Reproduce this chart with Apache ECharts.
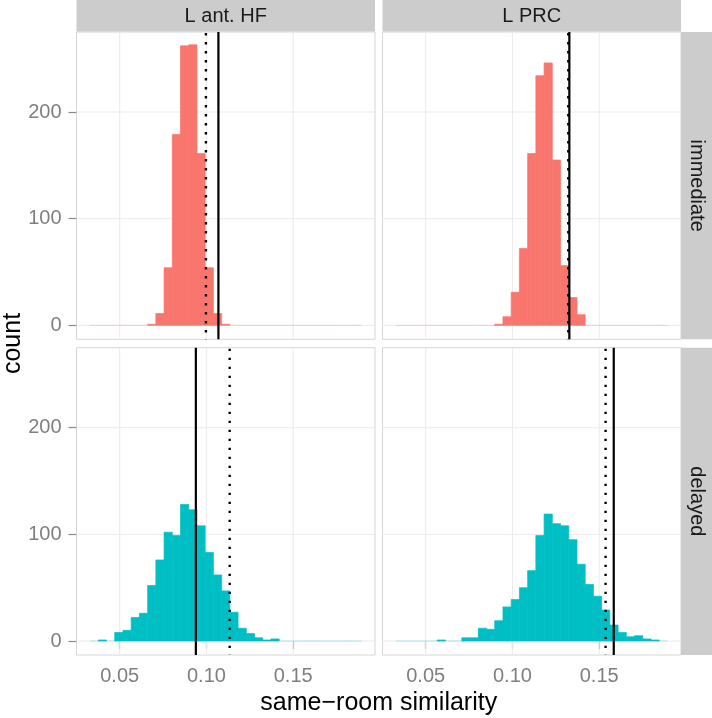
<!DOCTYPE html>
<html>
<head>
<meta charset="utf-8">
<script src="https://cdn.jsdelivr.net/npm/echarts@6/dist/echarts.min.js"></script>
<style>html,body{margin:0;padding:0;background:#fff}#c{width:712px;height:718px}</style>
</head>
<body>
<div id="c"></div>
<script>
// ---- data ----
const colLabels = ['L ant. HF', 'L PRC'];
const rowLabels = ['immediate', 'delayed'];
const xTicks = [0.05, 0.10, 0.15];
const yTicks = [0, 100, 200];
const binWidth = 0.00474;
const binCenters = [0.03529, 0.04003, 0.04477, 0.04951, 0.05425, 0.05899, 0.06373, 0.06847,
  0.07321, 0.07795, 0.08269, 0.08743, 0.09217, 0.09691, 0.10165, 0.10639, 0.11113, 0.11587,
  0.12061, 0.12535, 0.13009, 0.13483, 0.13957, 0.14431, 0.14905, 0.15379, 0.15853, 0.16327,
  0.16801, 0.17275, 0.17749, 0.18223, 0.18697];
const countsImmHF = [0,0,0,0,0,0,0, 1,11,54,179,262,263,161,54,11,1, 0,0,0,0,0,0,0,0,0,0,0,0,0,0,0,0];
const countsImmPRC = [0,0,0,0,0,0,0,0,0,0,0,0, 1,8,31,72,161,234,246,155,56,26,10, 0,0,0,0,0,0,0,0,0,0];
const countsDelHF = [0,1,0, 8,10,22,26,52,76,102,99,128,123,108,83,62,47,27,12,7,3,1,2, 0,0,0,0,0,0,0,0,0,0];
const countsDelPRC = [0,0,0,0,0,1,0,0, 3,3,12,11,19,32,39,50,66,99,119,110,108,95,72,53,42,29,15,8,4,5,2,1, 0];
// observed (solid) and reference (dotted) similarity per panel: immHF, immPRC, delHF, delPRC
const observedLines = [0.1069, 0.1328, 0.0939, 0.1584];
const referenceLines = [0.0997, 0.1322, 0.1134, 0.1537];

const xMin = 0.0251, xMax = 0.19716;
const yMin = -13.1, yMax = 275;

const panels = [
  {row: 0, col: 0, counts: countsImmHF, color: '#F8766D'},
  {row: 0, col: 1, counts: countsImmPRC, color: '#F8766D'},
  {row: 1, col: 0, counts: countsDelHF, color: '#00BFC4'},
  {row: 1, col: 1, counts: countsDelPRC, color: '#00BFC4'}
];

// ---- layout ----
const gLeft = [76.5, 382.5], gWidth = 298.5;
const gTop = [32, 347.7], gHeight = 307.3;
const FONT = '"Liberation Sans", Arial, Helvetica, sans-serif';

const grids = [], xAxes = [], yAxes = [], series = [];
panels.forEach((p, i) => {
  grids.push({left: gLeft[p.col], top: gTop[p.row], width: gWidth, height: gHeight,
    show: true, borderColor: '#d6d6d6', borderWidth: 1, backgroundColor: '#fff',
    containLabel: false, outerBoundsMode: 'none'});
  const bottom = p.row === 1, left = p.col === 0;
  xAxes.push({type: 'value', gridIndex: i, min: xMin, max: xMax,
    axisLine: {show: false}, splitLine: {show: false},
    axisTick: {show: bottom, customValues: xTicks, length: 8, lineStyle: {color: '#8a8a8a', width: 1.2}},
    axisLabel: {show: bottom, customValues: xTicks, margin: 11, color: '#7f7f7f', fontSize: 20,
      fontFamily: FONT, formatter: v => v.toFixed(2)}});
  yAxes.push({type: 'value', gridIndex: i, min: yMin, max: yMax,
    axisLine: {show: false}, splitLine: {show: false},
    axisTick: {show: left, customValues: yTicks, length: 8, lineStyle: {color: '#8a8a8a', width: 1.2}},
    axisLabel: {show: left, customValues: yTicks, margin: 15, color: '#7f7f7f', fontSize: 20,
      fontFamily: FONT}});
  // grid lines
  series.push({type: 'custom', xAxisIndex: i, yAxisIndex: i, z: 1, silent: true,
    data: xTicks.map(v => [v, 0]),
    renderItem: (params, api) => {
      const cs = params.coordSys; const x = api.coord([api.value(0), 0])[0];
      return {type: 'line', shape: {x1: x, y1: cs.y, x2: x, y2: cs.y + cs.height},
        style: {stroke: '#ebebeb', lineWidth: 1}};
    }});
  series.push({type: 'custom', xAxisIndex: i, yAxisIndex: i, z: 1, silent: true,
    data: yTicks.map(v => [xMin, v]),
    renderItem: (params, api) => {
      const cs = params.coordSys; const y = api.coord([xMin, api.value(1)])[1];
      return {type: 'line', shape: {x1: cs.x, y1: y, x2: cs.x + cs.width, y2: y},
        style: {stroke: '#ebebeb', lineWidth: 1}};
    }});
  // histogram
  series.push({type: 'custom', xAxisIndex: i, yAxisIndex: i, z: 2, silent: true, clip: true,
    data: binCenters.map((c, k) => [c, p.counts[k]]),
    renderItem: (params, api) => {
      const c = api.value(0), v = api.value(1);
      const a = api.coord([c - binWidth / 2, v]);
      const b = api.coord([c + binWidth / 2, 0]);
      if (v === 0) {
        return {type: 'line', shape: {x1: a[0], y1: b[1], x2: b[0], y2: b[1]},
          style: {stroke: p.color, lineWidth: 1, opacity: 0.3}};
      }
      return {type: 'rect', shape: {x: a[0], y: a[1], width: b[0] - a[0], height: b[1] - a[1]},
        style: {fill: p.color, stroke: p.color, lineWidth: 0.7}};
    }});
  // vertical reference lines
  series.push({type: 'custom', xAxisIndex: i, yAxisIndex: i, z: 3, silent: true,
    data: [[observedLines[i], 0]],
    renderItem: (params, api) => {
      const cs = params.coordSys; const x = api.coord([api.value(0), 0])[0];
      return {type: 'line', shape: {x1: x, y1: cs.y, x2: x, y2: cs.y + cs.height},
        style: {stroke: '#000', lineWidth: 2.2}};
    }});
  series.push({type: 'custom', xAxisIndex: i, yAxisIndex: i, z: 3, silent: true,
    data: [[referenceLines[i], 0]],
    renderItem: (params, api) => {
      const cs = params.coordSys; const x = api.coord([api.value(0), 0])[0];
      return {type: 'line', shape: {x1: x, y1: cs.y + 1, x2: x, y2: cs.y + cs.height},
        style: {stroke: '#000', lineWidth: 2.4, lineDash: [2.4, 6.6], lineCap: 'butt'}};
    }});
});

// strips and titles
const graphics = [];
colLabels.forEach((t, c) => {
  graphics.push({type: 'rect', shape: {x: gLeft[c], y: 0, width: gWidth, height: 31.5},
    style: {fill: '#cccccc'}, silent: true});
  graphics.push({type: 'text', x: gLeft[c] + gWidth / 2, y: 16.5, silent: true,
    style: {text: t, fill: '#1a1a1a', font: '20px ' + FONT, align: 'center', verticalAlign: 'middle'}});
});
const stripX = gLeft[1] + gWidth;
rowLabels.forEach((t, r) => {
  graphics.push({type: 'rect', shape: {x: stripX, y: gTop[r], width: 712 - stripX, height: gHeight},
    style: {fill: '#cccccc'}, silent: true});
  graphics.push({type: 'text', x: stripX + 15.5, y: gTop[r] + gHeight / 2, rotation: -Math.PI / 2, silent: true,
    style: {text: t, fill: '#1a1a1a', font: '20px ' + FONT, align: 'center', verticalAlign: 'middle'}});
});
graphics.push({type: 'text', x: (gLeft[0] + gLeft[1] + gWidth) / 2, y: 703, silent: true,
  style: {text: 'same\u2212room similarity', fill: '#000', font: '25px ' + FONT, align: 'center', verticalAlign: 'middle'}});
graphics.push({type: 'text', x: 13, y: (gTop[0] + gTop[1] + gHeight) / 2, rotation: Math.PI / 2, silent: true,
  style: {text: 'count', fill: '#000', font: '25px ' + FONT, align: 'center', verticalAlign: 'middle'}});

const chart = echarts.init(document.getElementById('c'), null, {renderer: 'canvas'});
chart.setOption({
  animation: false,
  backgroundColor: '#fff',
  grid: grids, xAxis: xAxes, yAxis: yAxes, series: series,
  graphic: graphics
});
</script>
</body>
</html>
